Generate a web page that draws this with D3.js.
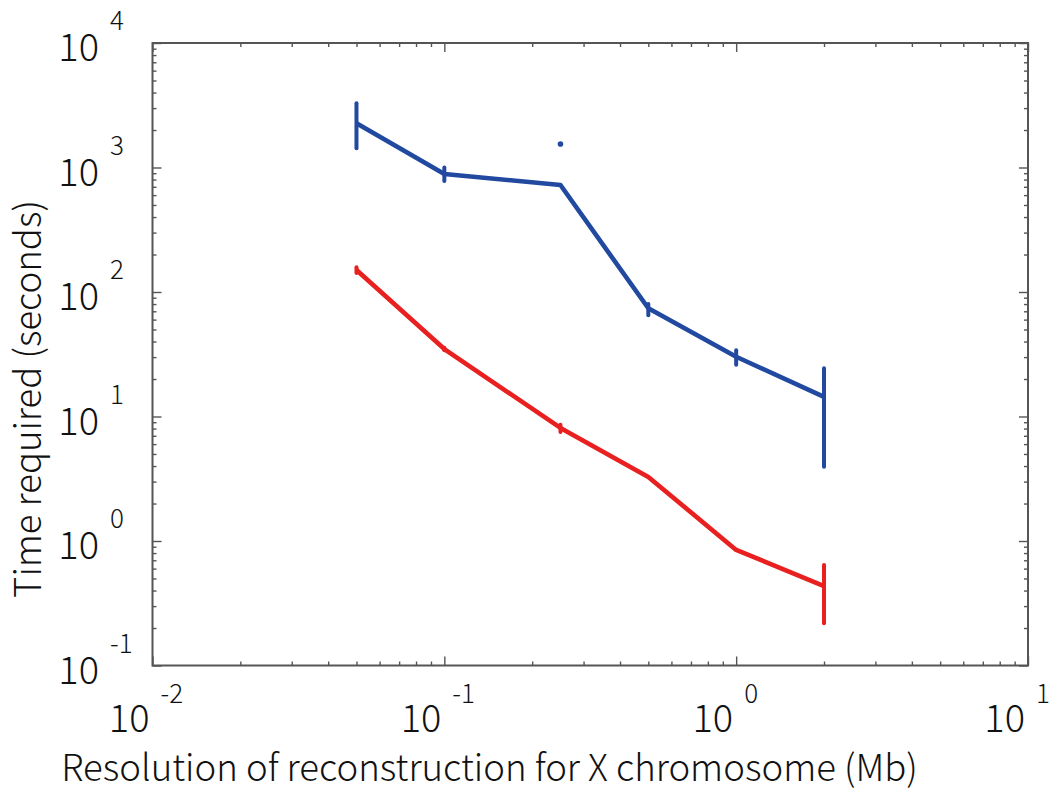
<!DOCTYPE html>
<html>
<head>
<meta charset="utf-8">
<script src="https://cdn.jsdelivr.net/npm/d3@7"></script>
<style>
  html, body { margin: 0; padding: 0; background: #fff; }
  svg { display: block; }
  text { font-family: "Noto Sans CJK JP", "Open Sans", sans-serif; font-weight: 300; fill: #111; }
</style>
</head>
<body>
<svg id="chart" width="1059" height="791"></svg>
<script>
// ---- data ----
const resolutions = [0.05, 0.1, 0.25, 0.5, 1, 2];           // Mb
const blueTime = [2265, 887, 723, 74, 30.2, 14.4];           // seconds
const blueLow  = [1426, 780, null, 65.0, 26.0, 3.95];
const blueHigh = [3280, 1000, null, 80.0, 34.0, 24.4];
const blueOutlier = [{x: 0.25, y: 1545}];
const redTime = [150, 34.8, 8.09, 3.27, 0.848, 0.435];
const redLow  = [142, 34.0, 7.5, null, null, 0.218];
const redHigh = [158, 35.6, 8.6, null, null, 0.641];
const xTickExponents = [-2, -1, 0, 1];
const yTickExponents = [-1, 0, 1, 2, 3, 4];
const xTitle = "Resolution of reconstruction for X chromosome (Mb)";
const yTitle = "Time required (seconds)";

// ---- layout ----
const svg = d3.select("#chart");
const L = 152.5, R = 1028, T = 43, B = 665.5;
const x = d3.scaleLog().domain([1e-2, 1e1]).range([L, R]);
const y = d3.scaleLog().domain([1e-1, 1e4]).range([B, T]);
const blue = "#2149a0", red = "#e8201f", axisCol = "#555";

function minorVals(lo, hi) {
  const v = [];
  for (let e = lo; e < hi; e++) for (let k = 2; k <= 9; k++) v.push(k * Math.pow(10, e));
  return v;
}
const xMinor = minorVals(-2, 1), yMinor = minorVals(-1, 4);
const xMajor = xTickExponents.map(e => Math.pow(10, e));
const yMajor = yTickExponents.map(e => Math.pow(10, e));

function styleAxis(g) {
  g.select(".domain").remove();
  g.selectAll(".tick line").attr("stroke", axisCol).attr("stroke-width", 1.4);
  g.selectAll(".tick text").remove();
}
const axes = [
  [d3.axisBottom(x), `translate(0,${B})`, xMinor, xMajor],
  [d3.axisTop(x), `translate(0,${T})`, xMinor, xMajor],
  [d3.axisLeft(y), `translate(${L},0)`, yMinor, yMajor],
  [d3.axisRight(y), `translate(${R},0)`, yMinor, yMajor]
];
axes.forEach(([ax, tr, mn, mj]) => {
  svg.append("g").attr("transform", tr)
    .call(ax.tickValues(mn).tickSize(-4).tickFormat(""))
    .call(styleAxis);
  svg.append("g").attr("transform", tr)
    .call(ax.tickValues(mj).tickSize(-9).tickFormat(""))
    .call(styleAxis);
});

svg.append("rect").attr("x", L).attr("y", T).attr("width", R - L).attr("height", B - T)
  .attr("fill", "none").attr("stroke", axisCol).attr("stroke-width", 2);

// x tick labels
xTickExponents.forEach(e => {
  const px = x(Math.pow(10, e));
  svg.append("text").attr("x", px - 3).attr("y", B + 66.5).attr("text-anchor", "end")
    .attr("font-size", 38).text("10");
  svg.append("text").attr("x", px + 8).attr("y", B + 37).attr("text-anchor", "start")
    .attr("font-size", 26).text(e);
});
// y tick labels
yTickExponents.forEach(e => {
  const py = y(Math.pow(10, e));
  svg.append("text").attr("x", 99).attr("y", py + 18).attr("text-anchor", "end")
    .attr("font-size", 38).text("10");
  svg.append("text").attr("x", 110).attr("y", py - 13).attr("text-anchor", "start")
    .attr("font-size", 26).text(e);
});

function fitText(sel, width) {
  const len = sel.node().getComputedTextLength();
  const fs = parseFloat(sel.attr("font-size"));
  sel.attr("font-size", fs * width / len);
}
const xt = svg.append("text").attr("x", (61 + 918) / 2).attr("y", 781)
  .attr("text-anchor", "middle").attr("font-size", 32).text(xTitle);
fitText(xt, 857);
const yt = svg.append("text").attr("transform", `translate(41,399) rotate(-90)`)
  .attr("text-anchor", "middle").attr("font-size", 32).text(yTitle);
fitText(yt, 398);

const line = d3.line().x(d => x(d[0])).y(d => y(d[1]));
function drawSeries(vals, lows, highs, color) {
  const pts = resolutions.map((r, i) => [r, vals[i]]);
  svg.append("path").datum(pts).attr("d", line).attr("fill", "none")
    .attr("stroke", color).attr("stroke-width", 4.6).attr("stroke-linejoin", "round");
  resolutions.forEach((r, i) => {
    if (lows[i] == null) return;
    svg.append("line").attr("x1", x(r)).attr("x2", x(r))
      .attr("y1", y(lows[i])).attr("y2", y(highs[i]))
      .attr("stroke", color).attr("stroke-width", 4).attr("stroke-linecap", "round");
  });
}
drawSeries(blueTime, blueLow, blueHigh, blue);
drawSeries(redTime, redLow, redHigh, red);
svg.selectAll(".outlier").data(blueOutlier).enter().append("circle")
  .attr("cx", d => x(d.x)).attr("cy", d => y(d.y)).attr("r", 2.8).attr("fill", blue);
</script>
</body>
</html>
